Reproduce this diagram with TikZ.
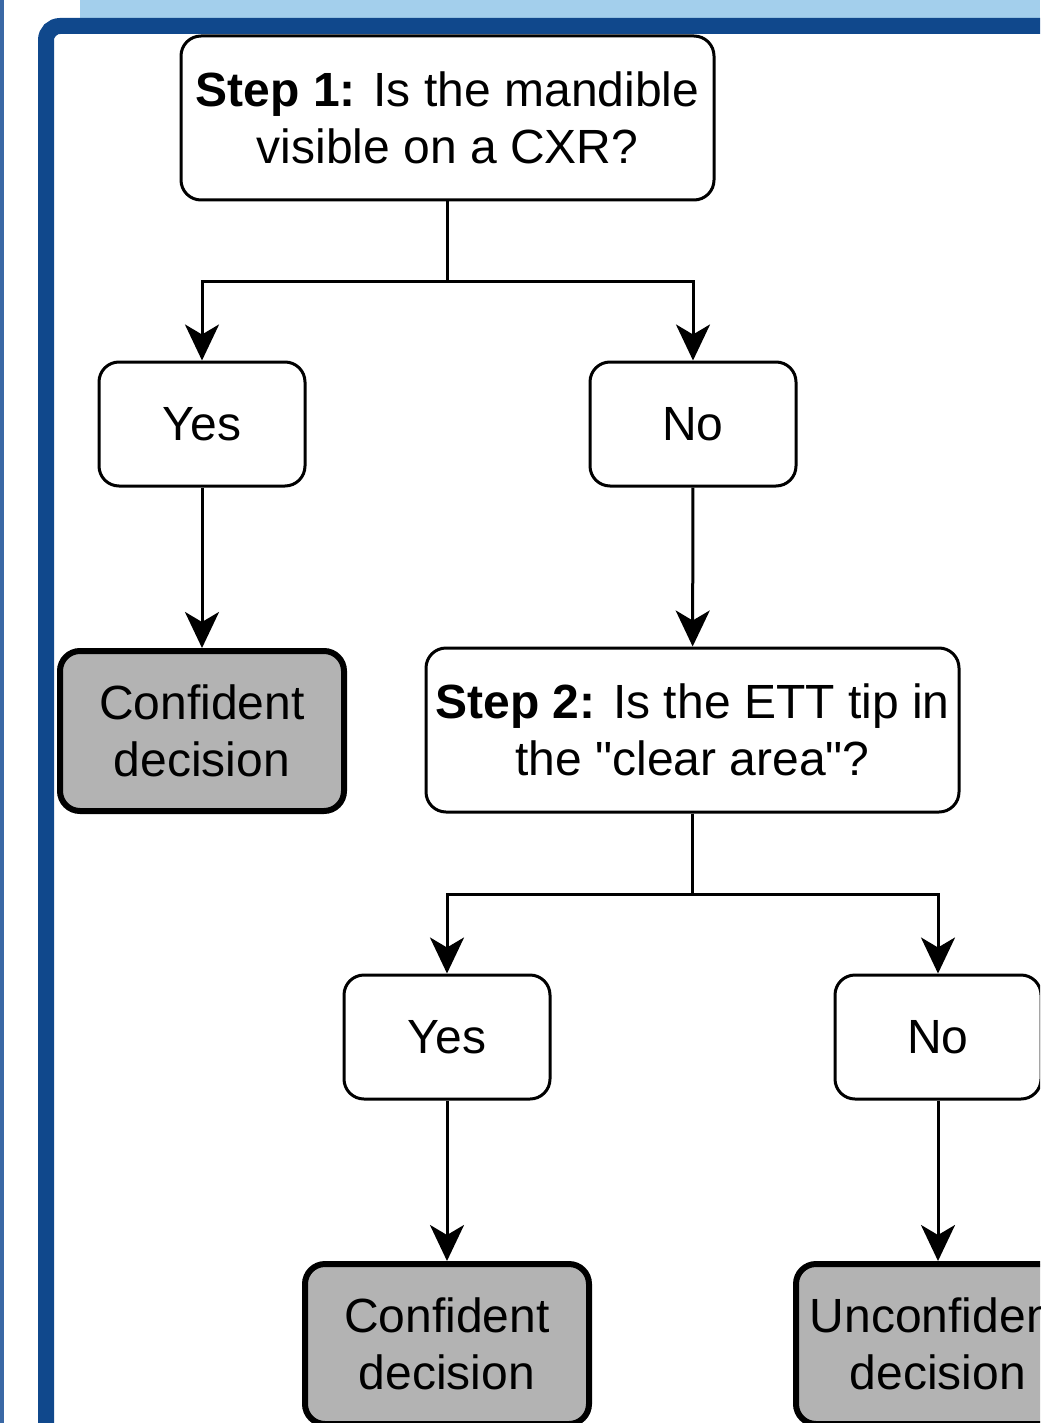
\documentclass[tikz,border=0pt]{standalone}
\usepackage{fontspec}
\setmainfont{Liberation Sans}
\usetikzlibrary{arrows.meta}
\definecolor{frameblue}{RGB}{16,72,140}
\definecolor{bandblue}{RGB}{163,207,236}
\definecolor{edgeblue}{RGB}{58,104,165}
\definecolor{endgray}{RGB}{179,179,179}

\begin{document}
\begin{tikzpicture}[x=0.5pt,y=-0.5pt,line width=1.5pt,
    link/.style={-{Stealth[length=18pt,width=17pt,inset=5pt]}},
    box/.style={draw,rounded corners=10pt,fill=white,inner sep=0pt,align=center,
      minimum width=103pt,minimum height=62pt,font=\fontsize{24}{28.5}\selectfont},
    stepbox/.style={box,minimum width=266.5pt,minimum height=82pt},
    endbox/.style={box,fill=endgray,line width=3pt,minimum width=142pt,minimum height=80pt}]

\useasboundingbox (0,0) rectangle (1040,1423);
\clip (0,0) rectangle (1040,1423);

% frame
\fill[edgeblue] (0,0) rectangle (4,1423);
\fill[bandblue] (80,0) rectangle (1040,18);
\draw[frameblue,line width=8pt,rounded corners=7pt] (46,26) rectangle (1200,1600);

\node[stepbox] (step1) at (447.5,118) {\textbf{Step 1:} Is the mandible\\visible on a CXR?};
\node[box] (yes1) at (202,424) {Yes};
\node[box] (no1) at (693,424) {No};
\node[endbox] (conf1) at (202,731) {Confident\\decision};
\node[stepbox] (step2) at (692.5,730) {\textbf{Step 2:} Is the ETT tip in\\the \textquotedbl clear area\textquotedbl?};
\node[box] (yes2) at (447,1037) {Yes};
\node[box] (no2) at (938,1037) {No};
\node[endbox] (conf2) at (447,1344) {Confident\\decision};
\node[endbox] (unconf) at (938,1344) {Unconfident\\decision};

\draw[link] (step1.south) -- ++(0,80) -| (yes1.north);
\draw[link] (step1.south) -- ++(0,80) -| (no1.north);
\draw[link] (yes1) -- (conf1);
\draw[link] (no1) -- (step2);
\draw[link] (step2.south) -- ++(0,81) -| (yes2.north);
\draw[link] (step2.south) -- ++(0,81) -| (no2.north);
\draw[link] (yes2) -- (conf2);
\draw[link] (no2) -- (unconf);

\end{tikzpicture}
\end{document}
